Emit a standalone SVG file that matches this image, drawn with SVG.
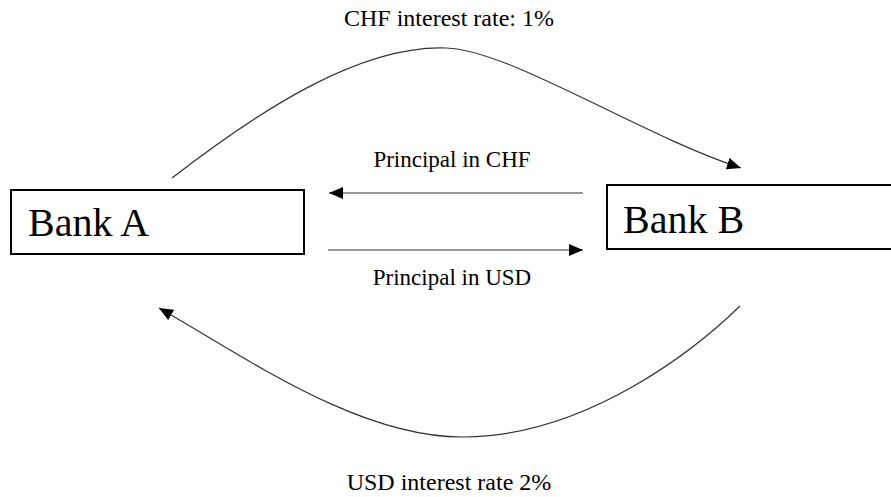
<svg xmlns="http://www.w3.org/2000/svg" width="891" height="497" viewBox="0 0 891 497">
<style>
.box{fill:#fff;stroke:#000;stroke-width:2}
.bank{font-family:"Liberation Serif","Times New Roman",serif;font-size:40px;fill:#000}
.lbl{font-family:"Liberation Serif","Times New Roman",serif;font-size:23px;fill:#000;text-anchor:middle}
.con{fill:none;stroke:#333;stroke-width:1.2}
</style>
<defs>
<marker id="ah" markerUnits="userSpaceOnUse" markerWidth="16" markerHeight="12" refX="14" refY="6" orient="auto">
<path d="M0,0 L14,6 L0,12 Z" fill="#000"/>
</marker>
</defs>
<rect width="891" height="497" fill="#fff"/>
<g id="bankA">
<rect class="box" x="11" y="190" width="293" height="64"/>
<text class="bank" x="28" y="236">Bank A</text>
</g>
<g id="bankB">
<rect class="box" x="607" y="185" width="290" height="64"/>
<text class="bank" x="623" y="233">Bank B</text>
</g>
<g id="connectors">
<path class="con" d="M172,178 C260,110 360,45 446,48 C510,50 640,135 741,168" marker-end="url(#ah)"/>
<path class="con" d="M740,306 C700,345 590,436 464,437 C360,438 250,360 159,308" marker-end="url(#ah)"/>
<line class="con" x1="583" y1="193" x2="329" y2="193" marker-end="url(#ah)"/>
<line class="con" x1="328" y1="250" x2="583" y2="250" marker-end="url(#ah)"/>
</g>
<g id="labels">
<text class="lbl" x="449" y="26" style="font-size:24px">CHF interest rate: 1%</text>
<text class="lbl" x="452" y="167">Principal in CHF</text>
<text class="lbl" x="452" y="285">Principal in USD</text>
<text class="lbl" x="449" y="490" style="font-size:24px">USD interest rate 2%</text>
</g>
</svg>
